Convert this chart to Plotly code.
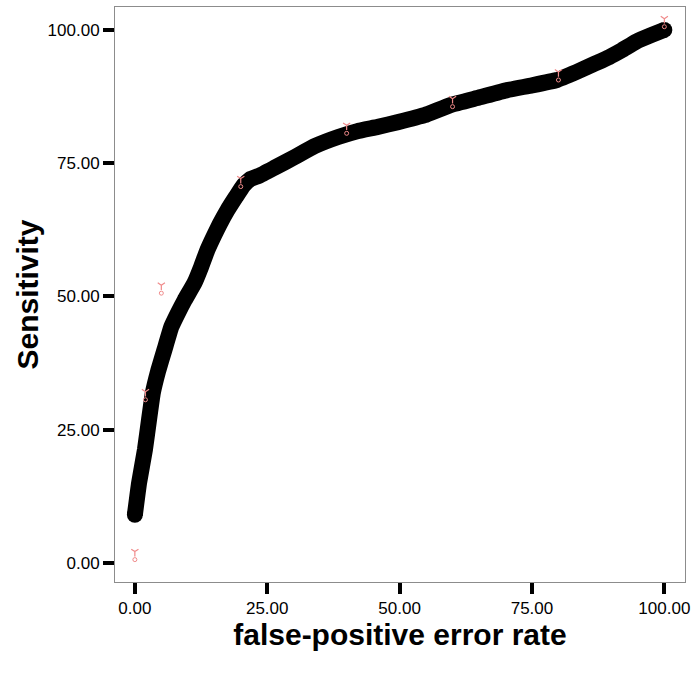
import plotly.graph_objects as go

# ROC curve (traced)
fpr = [0.0, 0.8, 1.9, 2.7, 3.4, 4.4, 5.6, 6.9, 8.2, 9.4, 11.25, 12.5, 13.7, 15.0, 16.0,
       17.5, 19.1, 20.5, 21.8, 23.4, 26.5, 30.3, 34.0, 38.4, 42.0, 45.9, 49.7, 54.7,
       59.6, 65.0, 70.3, 75.0, 79.7, 83.4, 86.5, 89.6, 92.0, 94.7, 97.5, 100.0]
sens = [9.0, 15.0, 21.2, 27.0, 31.9, 36.0, 40.0, 44.3, 47.0, 49.3, 52.5, 55.5, 58.7, 61.5, 63.5,
        66.2, 68.7, 70.8, 72.0, 72.6, 74.2, 76.2, 78.2, 79.9, 81.0, 81.8, 82.7, 84.0,
        85.9, 87.3, 88.7, 89.6, 90.6, 92.1, 93.5, 94.9, 96.2, 97.8, 99.0, 100.0]

# reference points (pink glyphs)
ref_x = [0, 2, 5, 20, 40, 60, 80, 100]
ref_y = [1.5, 31.5, 51.5, 71.5, 81.5, 86.5, 91.5, 101.5]

tickvals = [0, 25, 50, 75, 100]
ticktext = ["0.00", "25.00", "50.00", "75.00", "100.00"]

PINK = "#f08a8a"

fig = go.Figure()
fig.add_trace(go.Scatter(x=fpr, y=sens, mode="lines",
                         line=dict(color="black", width=16, shape="spline", smoothing=0.3),
                         hoverinfo="skip", showlegend=False))
fig.add_trace(go.Scatter(x=[fpr[0], fpr[-1]], y=[sens[0], sens[-1]], mode="markers",
                         marker=dict(color="black", size=16), showlegend=False))
fig.add_trace(go.Scatter(x=ref_x, y=[v + 0.6 for v in ref_y], mode="markers",
                         marker=dict(symbol="y-down-open", size=6, color=PINK,
                                     line=dict(color=PINK, width=1.2)),
                         showlegend=False))
fig.add_trace(go.Scatter(x=ref_x, y=[v - 0.9 for v in ref_y], mode="markers",
                         marker=dict(symbol="circle-open", size=4, color=PINK,
                                     line=dict(color=PINK, width=1)),
                         showlegend=False))

axis_common = dict(showgrid=False, zeroline=False, showline=True, linecolor="#8c8c8c",
                   linewidth=1, mirror=True, ticks="outside", ticklen=11, tickwidth=4,
                   tickcolor="black", tickvals=tickvals, ticktext=ticktext,
                   tickfont=dict(family="Liberation Sans, Arial", size=17, color="black"))

fig.update_layout(
    width=696, height=678,
    margin=dict(l=115, r=6, t=7, b=96),
    paper_bgcolor="white", plot_bgcolor="white",
    xaxis=dict(range=[-3.75, 103.9], **axis_common,
               title=dict(text="<b>false-positive error rate</b>", standoff=3,
                          font=dict(family="Liberation Sans, Arial", size=30, color="black"))),
    yaxis=dict(range=[-3.6, 104.3], **axis_common,
               title=dict(text="<b>Sensitivity</b>", standoff=0,
                          font=dict(family="Liberation Sans, Arial", size=30, color="black"))),
)

fig.write_html("out.html")
